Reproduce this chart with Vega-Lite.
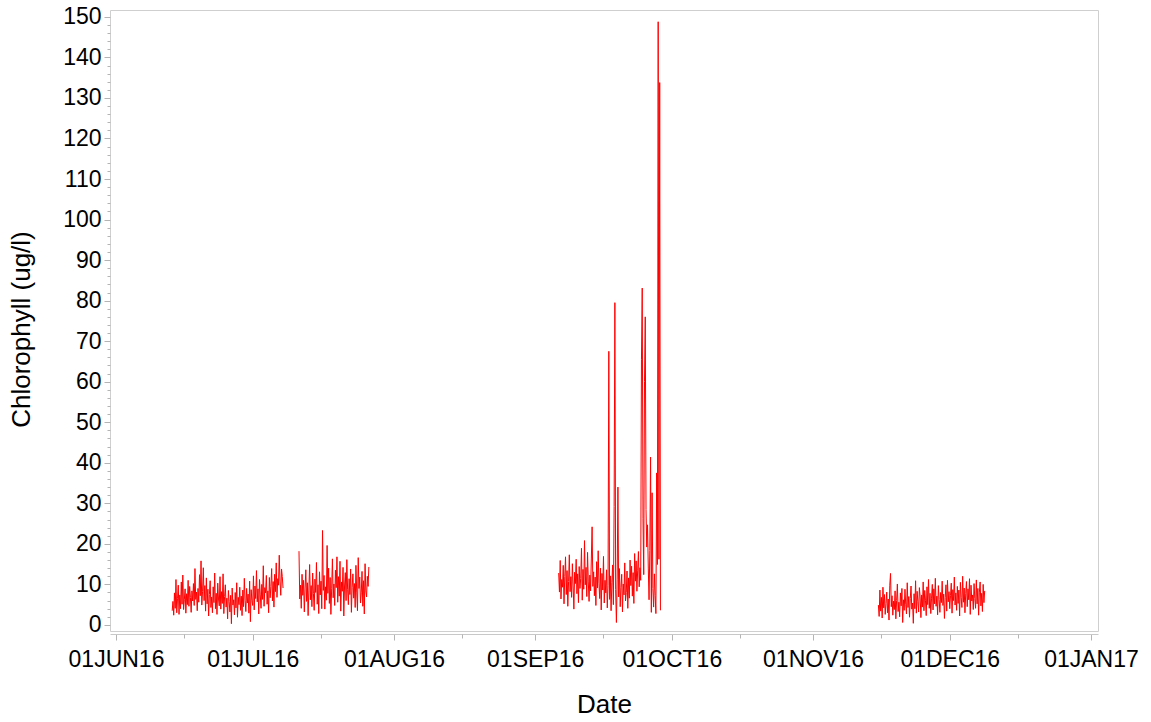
{
  "$schema": "https://vega.github.io/schema/vega-lite/v6.json",
  "width": 988,
  "height": 621,
  "autosize": "none",
  "padding": {"left": 110, "top": 10, "right": 53, "bottom": 91},
  "background": "white",
  "config": {
    "font": "Liberation Sans",
    "view": {"stroke": "#cfcfcf", "strokeWidth": 1},
    "axis": {"grid": false, "labelColor": "#000000", "titleColor": "#000000", "labelFont": "Liberation Sans", "titleFont": "Liberation Sans", "titleFontWeight": "normal", "tickColor": "#b4b4b4", "domainColor": "#c8c8c8"}
  },
  "data": {"values": [
    {"date":"2016-06-13 08:00","chl":3.5,"run":1},{"date":"2016-06-13 12:00","chl":5.8,"run":1},{"date":"2016-06-13 16:00","chl":2.4,"run":1},{"date":"2016-06-13 20:00","chl":7.9,"run":1},
    {"date":"2016-06-14 00:00","chl":4.1,"run":1},{"date":"2016-06-14 04:00","chl":11.2,"run":1},{"date":"2016-06-14 08:00","chl":3.0,"run":1},{"date":"2016-06-14 12:00","chl":6.5,"run":1},{"date":"2016-06-14 16:00","chl":9.8,"run":1},{"date":"2016-06-14 20:00","chl":2.6,"run":1},
    {"date":"2016-06-15 00:00","chl":7.4,"run":1},{"date":"2016-06-15 04:00","chl":4.0,"run":1},{"date":"2016-06-15 08:00","chl":10.6,"run":1},{"date":"2016-06-15 12:00","chl":5.1,"run":1},{"date":"2016-06-15 16:00","chl":12.3,"run":1},{"date":"2016-06-15 20:00","chl":3.8,"run":1},
    {"date":"2016-06-16 00:00","chl":6.2,"run":1},{"date":"2016-06-16 04:00","chl":8.9,"run":1},{"date":"2016-06-16 08:00","chl":2.9,"run":1},{"date":"2016-06-16 12:00","chl":7.7,"run":1},{"date":"2016-06-16 16:00","chl":5.0,"run":1},{"date":"2016-06-16 20:00","chl":11.0,"run":1},
    {"date":"2016-06-17 00:00","chl":4.6,"run":1},{"date":"2016-06-17 04:00","chl":9.5,"run":1},{"date":"2016-06-17 08:00","chl":6.8,"run":1},{"date":"2016-06-17 12:00","chl":3.1,"run":1},{"date":"2016-06-17 16:00","chl":8.4,"run":1},{"date":"2016-06-17 20:00","chl":5.9,"run":1},
    {"date":"2016-06-18 00:00","chl":10.2,"run":1},{"date":"2016-06-18 04:00","chl":4.8,"run":1},{"date":"2016-06-18 08:00","chl":13.9,"run":1},{"date":"2016-06-18 12:00","chl":6.3,"run":1},{"date":"2016-06-18 16:00","chl":8.1,"run":1},{"date":"2016-06-18 20:00","chl":3.5,"run":1},
    {"date":"2016-06-19 00:00","chl":9.0,"run":1},{"date":"2016-06-19 04:00","chl":5.6,"run":1},{"date":"2016-06-19 08:00","chl":12.4,"run":1},{"date":"2016-06-19 12:00","chl":7.2,"run":1},{"date":"2016-06-19 16:00","chl":15.8,"run":1},{"date":"2016-06-19 20:00","chl":4.9,"run":1},
    {"date":"2016-06-20 00:00","chl":8.3,"run":1},{"date":"2016-06-20 04:00","chl":14.1,"run":1},{"date":"2016-06-20 08:00","chl":6.0,"run":1},{"date":"2016-06-20 12:00","chl":9.7,"run":1},{"date":"2016-06-20 16:00","chl":3.4,"run":1},{"date":"2016-06-20 20:00","chl":11.6,"run":1},
    {"date":"2016-06-21 00:00","chl":5.2,"run":1},{"date":"2016-06-21 04:00","chl":8.8,"run":1},{"date":"2016-06-21 08:00","chl":2.2,"run":1},{"date":"2016-06-21 12:00","chl":7.5,"run":1},{"date":"2016-06-21 16:00","chl":10.9,"run":1},{"date":"2016-06-21 20:00","chl":4.3,"run":1},
    {"date":"2016-06-22 00:00","chl":6.9,"run":1},{"date":"2016-06-22 04:00","chl":3.0,"run":1},{"date":"2016-06-22 08:00","chl":9.4,"run":1},{"date":"2016-06-22 12:00","chl":5.5,"run":1},{"date":"2016-06-22 16:00","chl":12.8,"run":1},{"date":"2016-06-22 20:00","chl":4.0,"run":1},
    {"date":"2016-06-23 00:00","chl":7.8,"run":1},{"date":"2016-06-23 04:00","chl":2.6,"run":1},{"date":"2016-06-23 08:00","chl":10.3,"run":1},{"date":"2016-06-23 12:00","chl":6.4,"run":1},{"date":"2016-06-23 16:00","chl":4.7,"run":1},{"date":"2016-06-23 20:00","chl":11.9,"run":1},
    {"date":"2016-06-24 00:00","chl":3.9,"run":1},{"date":"2016-06-24 04:00","chl":8.2,"run":1},{"date":"2016-06-24 08:00","chl":5.3,"run":1},{"date":"2016-06-24 12:00","chl":12.6,"run":1},{"date":"2016-06-24 16:00","chl":2.8,"run":1},{"date":"2016-06-24 20:00","chl":7.0,"run":1},
    {"date":"2016-06-25 00:00","chl":9.9,"run":1},{"date":"2016-06-25 04:00","chl":4.4,"run":1},{"date":"2016-06-25 08:00","chl":6.6,"run":1},{"date":"2016-06-25 12:00","chl":1.5,"run":1},{"date":"2016-06-25 16:00","chl":8.5,"run":1},{"date":"2016-06-25 20:00","chl":5.8,"run":1},
    {"date":"2016-06-26 00:00","chl":3.2,"run":1},{"date":"2016-06-26 04:00","chl":7.3,"run":1},{"date":"2016-06-26 08:00","chl":0.3,"run":1},{"date":"2016-06-26 12:00","chl":9.1,"run":1},{"date":"2016-06-26 16:00","chl":4.9,"run":1},{"date":"2016-06-26 20:00","chl":6.2,"run":1},
    {"date":"2016-06-27 00:00","chl":2.5,"run":1},{"date":"2016-06-27 04:00","chl":8.0,"run":1},{"date":"2016-06-27 08:00","chl":4.2,"run":1},{"date":"2016-06-27 12:00","chl":10.4,"run":1},{"date":"2016-06-27 16:00","chl":1.9,"run":1},{"date":"2016-06-27 20:00","chl":6.8,"run":1},
    {"date":"2016-06-28 00:00","chl":5.0,"run":1},{"date":"2016-06-28 04:00","chl":9.3,"run":1},{"date":"2016-06-28 08:00","chl":3.6,"run":1},{"date":"2016-06-28 12:00","chl":7.1,"run":1},{"date":"2016-06-28 16:00","chl":2.3,"run":1},{"date":"2016-06-28 20:00","chl":8.6,"run":1},
    {"date":"2016-06-29 00:00","chl":4.5,"run":1},{"date":"2016-06-29 04:00","chl":11.5,"run":1},{"date":"2016-06-29 08:00","chl":6.1,"run":1},{"date":"2016-06-29 12:00","chl":3.3,"run":1},{"date":"2016-06-29 16:00","chl":9.0,"run":1},{"date":"2016-06-29 20:00","chl":5.4,"run":1},
    {"date":"2016-06-30 00:00","chl":7.6,"run":1},{"date":"2016-06-30 04:00","chl":2.9,"run":1},{"date":"2016-06-30 08:00","chl":10.8,"run":1},{"date":"2016-06-30 12:00","chl":0.8,"run":1},{"date":"2016-06-30 16:00","chl":8.7,"run":1},{"date":"2016-06-30 20:00","chl":6.0,"run":1},
    {"date":"2016-07-01 00:00","chl":4.8,"run":1},{"date":"2016-07-01 04:00","chl":12.1,"run":1},{"date":"2016-07-01 08:00","chl":3.7,"run":1},{"date":"2016-07-01 12:00","chl":9.6,"run":1},{"date":"2016-07-01 16:00","chl":6.5,"run":1},{"date":"2016-07-01 20:00","chl":13.4,"run":1},
    {"date":"2016-07-02 00:00","chl":5.7,"run":1},{"date":"2016-07-02 04:00","chl":8.9,"run":1},{"date":"2016-07-02 08:00","chl":2.7,"run":1},{"date":"2016-07-02 12:00","chl":11.2,"run":1},{"date":"2016-07-02 16:00","chl":7.4,"run":1},{"date":"2016-07-02 20:00","chl":4.1,"run":1},
    {"date":"2016-07-03 00:00","chl":10.0,"run":1},{"date":"2016-07-03 04:00","chl":6.3,"run":1},{"date":"2016-07-03 08:00","chl":14.6,"run":1},{"date":"2016-07-03 12:00","chl":4.6,"run":1},{"date":"2016-07-03 16:00","chl":9.2,"run":1},{"date":"2016-07-03 20:00","chl":7.9,"run":1},
    {"date":"2016-07-04 00:00","chl":12.2,"run":1},{"date":"2016-07-04 04:00","chl":5.1,"run":1},{"date":"2016-07-04 08:00","chl":8.4,"run":1},{"date":"2016-07-04 12:00","chl":3.0,"run":1},{"date":"2016-07-04 16:00","chl":11.7,"run":1},{"date":"2016-07-04 20:00","chl":6.7,"run":1},
    {"date":"2016-07-05 00:00","chl":9.5,"run":1},{"date":"2016-07-05 04:00","chl":13.9,"run":1},{"date":"2016-07-05 08:00","chl":5.9,"run":1},{"date":"2016-07-05 12:00","chl":10.7,"run":1},{"date":"2016-07-05 16:00","chl":4.4,"run":1},{"date":"2016-07-05 20:00","chl":12.5,"run":1},
    {"date":"2016-07-06 00:00","chl":8.2,"run":1},{"date":"2016-07-06 04:00","chl":15.3,"run":1},{"date":"2016-07-06 08:00","chl":6.8,"run":1},{"date":"2016-07-06 12:00","chl":11.4,"run":1},{"date":"2016-07-06 16:00","chl":9.8,"run":1},{"date":"2016-07-06 20:00","chl":17.2,"run":1},
    {"date":"2016-07-07 00:00","chl":10.6,"run":1},{"date":"2016-07-07 04:00","chl":7.3,"run":1},{"date":"2016-07-07 08:00","chl":13.8,"run":1},{"date":"2016-07-07 12:00","chl":11.9,"run":1},{"date":"2016-07-07 16:00","chl":9.1,"run":1},

    {"date":"2016-07-11 04:00","chl":18.2,"run":2},{"date":"2016-07-11 08:00","chl":6.4,"run":2},{"date":"2016-07-11 12:00","chl":9.8,"run":2},{"date":"2016-07-11 16:00","chl":4.1,"run":2},{"date":"2016-07-11 20:00","chl":12.5,"run":2},
    {"date":"2016-07-12 00:00","chl":7.3,"run":2},{"date":"2016-07-12 04:00","chl":11.0,"run":2},{"date":"2016-07-12 08:00","chl":3.2,"run":2},{"date":"2016-07-12 12:00","chl":9.1,"run":2},{"date":"2016-07-12 16:00","chl":13.6,"run":2},{"date":"2016-07-12 20:00","chl":5.8,"run":2},
    {"date":"2016-07-13 00:00","chl":10.4,"run":2},{"date":"2016-07-13 04:00","chl":2.3,"run":2},{"date":"2016-07-13 08:00","chl":8.6,"run":2},{"date":"2016-07-13 12:00","chl":14.9,"run":2},{"date":"2016-07-13 16:00","chl":6.2,"run":2},{"date":"2016-07-13 20:00","chl":9.7,"run":2},
    {"date":"2016-07-14 00:00","chl":4.5,"run":2},{"date":"2016-07-14 04:00","chl":12.8,"run":2},{"date":"2016-07-14 08:00","chl":7.7,"run":2},{"date":"2016-07-14 12:00","chl":3.6,"run":2},{"date":"2016-07-14 16:00","chl":11.3,"run":2},{"date":"2016-07-14 20:00","chl":8.0,"run":2},
    {"date":"2016-07-15 00:00","chl":15.4,"run":2},{"date":"2016-07-15 04:00","chl":5.1,"run":2},{"date":"2016-07-15 08:00","chl":9.9,"run":2},{"date":"2016-07-15 12:00","chl":2.8,"run":2},{"date":"2016-07-15 16:00","chl":13.1,"run":2},{"date":"2016-07-15 20:00","chl":7.4,"run":2},
    {"date":"2016-07-16 00:00","chl":10.8,"run":2},{"date":"2016-07-16 04:00","chl":4.0,"run":2},{"date":"2016-07-16 08:00","chl":23.3,"run":2},{"date":"2016-07-16 12:00","chl":8.5,"run":2},{"date":"2016-07-16 16:00","chl":12.2,"run":2},{"date":"2016-07-16 20:00","chl":3.9,"run":2},
    {"date":"2016-07-17 00:00","chl":9.4,"run":2},{"date":"2016-07-17 04:00","chl":6.1,"run":2},{"date":"2016-07-17 08:00","chl":19.6,"run":2},{"date":"2016-07-17 12:00","chl":7.8,"run":2},{"date":"2016-07-17 16:00","chl":14.0,"run":2},{"date":"2016-07-17 20:00","chl":5.3,"run":2},
    {"date":"2016-07-18 00:00","chl":11.7,"run":2},{"date":"2016-07-18 04:00","chl":2.6,"run":2},{"date":"2016-07-18 08:00","chl":8.9,"run":2},{"date":"2016-07-18 12:00","chl":16.3,"run":2},{"date":"2016-07-18 16:00","chl":6.7,"run":2},{"date":"2016-07-18 20:00","chl":10.1,"run":2},
    {"date":"2016-07-19 00:00","chl":4.8,"run":2},{"date":"2016-07-19 04:00","chl":13.5,"run":2},{"date":"2016-07-19 08:00","chl":9.2,"run":2},{"date":"2016-07-19 12:00","chl":16.8,"run":2},{"date":"2016-07-19 16:00","chl":5.6,"run":2},{"date":"2016-07-19 20:00","chl":11.9,"run":2},
    {"date":"2016-07-20 00:00","chl":7.1,"run":2},{"date":"2016-07-20 04:00","chl":15.7,"run":2},{"date":"2016-07-20 08:00","chl":3.4,"run":2},{"date":"2016-07-20 12:00","chl":10.6,"run":2},{"date":"2016-07-20 16:00","chl":8.3,"run":2},{"date":"2016-07-20 20:00","chl":14.2,"run":2},
    {"date":"2016-07-21 00:00","chl":2.2,"run":2},{"date":"2016-07-21 04:00","chl":9.6,"run":2},{"date":"2016-07-21 08:00","chl":12.9,"run":2},{"date":"2016-07-21 12:00","chl":6.0,"run":2},{"date":"2016-07-21 16:00","chl":16.1,"run":2},{"date":"2016-07-21 20:00","chl":8.8,"run":2},
    {"date":"2016-07-22 00:00","chl":5.0,"run":2},{"date":"2016-07-22 04:00","chl":11.4,"run":2},{"date":"2016-07-22 08:00","chl":7.5,"run":2},{"date":"2016-07-22 12:00","chl":13.8,"run":2},{"date":"2016-07-22 16:00","chl":3.1,"run":2},{"date":"2016-07-22 20:00","chl":9.3,"run":2},
    {"date":"2016-07-23 00:00","chl":12.6,"run":2},{"date":"2016-07-23 04:00","chl":6.6,"run":2},{"date":"2016-07-23 08:00","chl":10.2,"run":2},{"date":"2016-07-23 12:00","chl":4.3,"run":2},{"date":"2016-07-23 16:00","chl":14.7,"run":2},{"date":"2016-07-23 20:00","chl":8.1,"run":2},
    {"date":"2016-07-24 00:00","chl":3.5,"run":2},{"date":"2016-07-24 04:00","chl":16.6,"run":2},{"date":"2016-07-24 08:00","chl":9.0,"run":2},{"date":"2016-07-24 12:00","chl":11.8,"run":2},{"date":"2016-07-24 16:00","chl":5.4,"run":2},{"date":"2016-07-24 20:00","chl":7.9,"run":2},
    {"date":"2016-07-25 00:00","chl":13.2,"run":2},{"date":"2016-07-25 04:00","chl":4.6,"run":2},{"date":"2016-07-25 08:00","chl":10.9,"run":2},{"date":"2016-07-25 12:00","chl":2.7,"run":2},{"date":"2016-07-25 16:00","chl":15.1,"run":2},{"date":"2016-07-25 20:00","chl":8.4,"run":2},
    {"date":"2016-07-26 00:00","chl":6.9,"run":2},{"date":"2016-07-26 04:00","chl":12.0,"run":2},{"date":"2016-07-26 08:00","chl":9.5,"run":2},{"date":"2016-07-26 12:00","chl":14.3,"run":2},

    {"date":"2016-09-06 04:00","chl":12.8,"run":3},{"date":"2016-09-06 08:00","chl":8.1,"run":3},{"date":"2016-09-06 12:00","chl":15.9,"run":3},{"date":"2016-09-06 16:00","chl":6.4,"run":3},{"date":"2016-09-06 20:00","chl":11.2,"run":3},
    {"date":"2016-09-07 00:00","chl":9.3,"run":3},{"date":"2016-09-07 04:00","chl":14.7,"run":3},{"date":"2016-09-07 08:00","chl":5.2,"run":3},{"date":"2016-09-07 12:00","chl":12.0,"run":3},{"date":"2016-09-07 16:00","chl":16.8,"run":3},{"date":"2016-09-07 20:00","chl":7.5,"run":3},
    {"date":"2016-09-08 00:00","chl":13.4,"run":3},{"date":"2016-09-08 04:00","chl":4.6,"run":3},{"date":"2016-09-08 08:00","chl":10.7,"run":3},{"date":"2016-09-08 12:00","chl":17.3,"run":3},{"date":"2016-09-08 16:00","chl":8.2,"run":3},{"date":"2016-09-08 20:00","chl":11.9,"run":3},
    {"date":"2016-09-09 00:00","chl":6.8,"run":3},{"date":"2016-09-09 04:00","chl":15.1,"run":3},{"date":"2016-09-09 08:00","chl":9.6,"run":3},{"date":"2016-09-09 12:00","chl":3.9,"run":3},{"date":"2016-09-09 16:00","chl":13.0,"run":3},{"date":"2016-09-09 20:00","chl":10.2,"run":3},
    {"date":"2016-09-10 00:00","chl":16.2,"run":3},{"date":"2016-09-10 04:00","chl":7.7,"run":3},{"date":"2016-09-10 08:00","chl":12.6,"run":3},{"date":"2016-09-10 12:00","chl":5.5,"run":3},{"date":"2016-09-10 16:00","chl":14.4,"run":3},{"date":"2016-09-10 20:00","chl":9.0,"run":3},
    {"date":"2016-09-11 00:00","chl":11.5,"run":3},{"date":"2016-09-11 04:00","chl":18.9,"run":3},{"date":"2016-09-11 08:00","chl":6.1,"run":3},{"date":"2016-09-11 12:00","chl":13.7,"run":3},{"date":"2016-09-11 16:00","chl":8.8,"run":3},{"date":"2016-09-11 20:00","chl":20.8,"run":3},
    {"date":"2016-09-12 00:00","chl":9.9,"run":3},{"date":"2016-09-12 04:00","chl":14.2,"run":3},{"date":"2016-09-12 08:00","chl":7.0,"run":3},{"date":"2016-09-12 12:00","chl":17.9,"run":3},{"date":"2016-09-12 16:00","chl":10.6,"run":3},{"date":"2016-09-12 20:00","chl":5.8,"run":3},
    {"date":"2016-09-13 00:00","chl":12.3,"run":3},{"date":"2016-09-13 04:00","chl":8.4,"run":3},{"date":"2016-09-13 08:00","chl":16.5,"run":3},{"date":"2016-09-13 12:00","chl":24.2,"run":3},{"date":"2016-09-13 16:00","chl":9.5,"run":3},{"date":"2016-09-13 20:00","chl":13.1,"run":3},
    {"date":"2016-09-14 00:00","chl":7.2,"run":3},{"date":"2016-09-14 04:00","chl":11.8,"run":3},{"date":"2016-09-14 08:00","chl":4.8,"run":3},{"date":"2016-09-14 12:00","chl":15.6,"run":3},{"date":"2016-09-14 16:00","chl":9.1,"run":3},{"date":"2016-09-14 20:00","chl":18.3,"run":3},
    {"date":"2016-09-15 00:00","chl":10.3,"run":3},{"date":"2016-09-15 04:00","chl":6.5,"run":3},{"date":"2016-09-15 08:00","chl":14.0,"run":3},{"date":"2016-09-15 12:00","chl":3.7,"run":3},{"date":"2016-09-15 16:00","chl":12.7,"run":3},{"date":"2016-09-15 20:00","chl":8.6,"run":3},
    {"date":"2016-09-16 00:00","chl":16.9,"run":3},{"date":"2016-09-16 04:00","chl":5.4,"run":3},{"date":"2016-09-16 08:00","chl":11.0,"run":3},{"date":"2016-09-16 12:00","chl":7.9,"run":3},{"date":"2016-09-16 16:00","chl":13.6,"run":3},{"date":"2016-09-16 20:00","chl":4.2,"run":3},
    {"date":"2016-09-17 00:00","chl":9.8,"run":3},{"date":"2016-09-17 04:00","chl":67.5,"run":3},{"date":"2016-09-17 08:00","chl":6.3,"run":3},{"date":"2016-09-17 12:00","chl":12.1,"run":3},{"date":"2016-09-17 16:00","chl":3.5,"run":3},{"date":"2016-09-17 20:00","chl":10.4,"run":3},
    {"date":"2016-09-18 00:00","chl":14.8,"run":3},{"date":"2016-09-18 04:00","chl":5.0,"run":3},{"date":"2016-09-18 08:00","chl":29.2,"run":3},{"date":"2016-09-18 12:00","chl":79.5,"run":3},{"date":"2016-09-18 16:00","chl":8.7,"run":3},{"date":"2016-09-18 20:00","chl":0.6,"run":3},
    {"date":"2016-09-19 00:00","chl":11.3,"run":3},{"date":"2016-09-19 04:00","chl":34.0,"run":3},{"date":"2016-09-19 08:00","chl":6.9,"run":3},{"date":"2016-09-19 12:00","chl":13.9,"run":3},{"date":"2016-09-19 16:00","chl":4.5,"run":3},{"date":"2016-09-19 20:00","chl":9.2,"run":3},
    {"date":"2016-09-20 00:00","chl":12.5,"run":3},{"date":"2016-09-20 04:00","chl":3.2,"run":3},{"date":"2016-09-20 08:00","chl":10.1,"run":3},{"date":"2016-09-20 12:00","chl":7.4,"run":3},{"date":"2016-09-20 16:00","chl":15.3,"run":3},{"date":"2016-09-20 20:00","chl":5.9,"run":3},
    {"date":"2016-09-21 00:00","chl":8.0,"run":3},{"date":"2016-09-21 04:00","chl":13.3,"run":3},{"date":"2016-09-21 08:00","chl":4.1,"run":3},{"date":"2016-09-21 12:00","chl":11.6,"run":3},{"date":"2016-09-21 16:00","chl":6.6,"run":3},{"date":"2016-09-21 20:00","chl":16.0,"run":3},
    {"date":"2016-09-22 00:00","chl":9.7,"run":3},{"date":"2016-09-22 04:00","chl":14.5,"run":3},{"date":"2016-09-22 08:00","chl":7.1,"run":3},{"date":"2016-09-22 12:00","chl":12.9,"run":3},{"date":"2016-09-22 16:00","chl":5.3,"run":3},{"date":"2016-09-22 20:00","chl":17.6,"run":3},
    {"date":"2016-09-23 00:00","chl":10.8,"run":3},{"date":"2016-09-23 04:00","chl":15.8,"run":3},{"date":"2016-09-23 08:00","chl":8.3,"run":3},{"date":"2016-09-23 12:00","chl":13.5,"run":3},{"date":"2016-09-23 16:00","chl":18.1,"run":3},{"date":"2016-09-23 20:00","chl":9.4,"run":3},
    {"date":"2016-09-24 00:00","chl":14.1,"run":3},{"date":"2016-09-24 04:00","chl":11.0,"run":3},{"date":"2016-09-24 08:00","chl":65.4,"run":3},{"date":"2016-09-24 12:00","chl":83.1,"run":3},{"date":"2016-09-24 16:00","chl":26.3,"run":3},{"date":"2016-09-24 20:00","chl":12.4,"run":3},
    {"date":"2016-09-25 00:00","chl":60.0,"run":3},{"date":"2016-09-25 04:00","chl":76.0,"run":3},{"date":"2016-09-25 08:00","chl":28.5,"run":3},{"date":"2016-09-25 12:00","chl":19.2,"run":3},{"date":"2016-09-25 16:00","chl":24.7,"run":3},{"date":"2016-09-25 20:00","chl":13.8,"run":3},
    {"date":"2016-09-26 00:00","chl":6.2,"run":3},{"date":"2016-09-26 04:00","chl":18.4,"run":3},{"date":"2016-09-26 08:00","chl":41.4,"run":3},{"date":"2016-09-26 12:00","chl":3.1,"run":3},{"date":"2016-09-26 16:00","chl":32.6,"run":3},{"date":"2016-09-26 20:00","chl":9.0,"run":3},
    {"date":"2016-09-27 00:00","chl":4.4,"run":3},{"date":"2016-09-27 04:00","chl":12.6,"run":3},{"date":"2016-09-27 08:00","chl":7.3,"run":3},{"date":"2016-09-27 12:00","chl":2.8,"run":3},{"date":"2016-09-27 16:00","chl":37.5,"run":3},{"date":"2016-09-27 20:00","chl":14.9,"run":3},
    {"date":"2016-09-28 00:00","chl":148.8,"run":3},{"date":"2016-09-28 04:00","chl":16.2,"run":3},{"date":"2016-09-28 08:00","chl":133.8,"run":3},{"date":"2016-09-28 12:00","chl":3.6,"run":3},

    {"date":"2016-11-15 08:00","chl":4.9,"run":4},{"date":"2016-11-15 12:00","chl":2.1,"run":4},{"date":"2016-11-15 16:00","chl":8.6,"run":4},{"date":"2016-11-15 20:00","chl":3.4,"run":4},
    {"date":"2016-11-16 00:00","chl":6.8,"run":4},{"date":"2016-11-16 04:00","chl":1.7,"run":4},{"date":"2016-11-16 08:00","chl":9.3,"run":4},{"date":"2016-11-16 12:00","chl":4.2,"run":4},{"date":"2016-11-16 16:00","chl":7.5,"run":4},{"date":"2016-11-16 20:00","chl":2.6,"run":4},
    {"date":"2016-11-17 00:00","chl":5.3,"run":4},{"date":"2016-11-17 04:00","chl":8.1,"run":4},{"date":"2016-11-17 08:00","chl":3.0,"run":4},{"date":"2016-11-17 12:00","chl":6.4,"run":4},{"date":"2016-11-17 16:00","chl":1.2,"run":4},{"date":"2016-11-17 20:00","chl":9.8,"run":4},
    {"date":"2016-11-18 00:00","chl":12.7,"run":4},{"date":"2016-11-18 04:00","chl":4.5,"run":4},{"date":"2016-11-18 08:00","chl":7.2,"run":4},{"date":"2016-11-18 12:00","chl":2.4,"run":4},{"date":"2016-11-18 16:00","chl":5.9,"run":4},{"date":"2016-11-18 20:00","chl":3.8,"run":4},
    {"date":"2016-11-19 00:00","chl":8.4,"run":4},{"date":"2016-11-19 04:00","chl":1.5,"run":4},{"date":"2016-11-19 08:00","chl":6.0,"run":4},{"date":"2016-11-19 12:00","chl":10.1,"run":4},{"date":"2016-11-19 16:00","chl":3.3,"run":4},{"date":"2016-11-19 20:00","chl":5.6,"run":4},
    {"date":"2016-11-20 00:00","chl":2.0,"run":4},{"date":"2016-11-20 04:00","chl":7.9,"run":4},{"date":"2016-11-20 08:00","chl":4.7,"run":4},{"date":"2016-11-20 12:00","chl":9.0,"run":4},{"date":"2016-11-20 16:00","chl":0.6,"run":4},{"date":"2016-11-20 20:00","chl":6.2,"run":4},
    {"date":"2016-11-21 00:00","chl":3.6,"run":4},{"date":"2016-11-21 04:00","chl":8.8,"run":4},{"date":"2016-11-21 08:00","chl":5.1,"run":4},{"date":"2016-11-21 12:00","chl":2.7,"run":4},{"date":"2016-11-21 16:00","chl":10.4,"run":4},{"date":"2016-11-21 20:00","chl":4.3,"run":4},
    {"date":"2016-11-22 00:00","chl":7.0,"run":4},{"date":"2016-11-22 04:00","chl":1.9,"run":4},{"date":"2016-11-22 08:00","chl":6.5,"run":4},{"date":"2016-11-22 12:00","chl":9.6,"run":4},{"date":"2016-11-22 16:00","chl":3.9,"run":4},{"date":"2016-11-22 20:00","chl":5.4,"run":4},
    {"date":"2016-11-23 00:00","chl":0.4,"run":4},{"date":"2016-11-23 04:00","chl":7.7,"run":4},{"date":"2016-11-23 08:00","chl":4.0,"run":4},{"date":"2016-11-23 12:00","chl":10.9,"run":4},{"date":"2016-11-23 16:00","chl":2.9,"run":4},{"date":"2016-11-23 20:00","chl":8.3,"run":4},
    {"date":"2016-11-24 00:00","chl":5.8,"run":4},{"date":"2016-11-24 04:00","chl":3.2,"run":4},{"date":"2016-11-24 08:00","chl":9.2,"run":4},{"date":"2016-11-24 12:00","chl":6.9,"run":4},{"date":"2016-11-24 16:00","chl":1.8,"run":4},{"date":"2016-11-24 20:00","chl":7.4,"run":4},
    {"date":"2016-11-25 00:00","chl":4.4,"run":4},{"date":"2016-11-25 04:00","chl":10.6,"run":4},{"date":"2016-11-25 08:00","chl":3.5,"run":4},{"date":"2016-11-25 12:00","chl":8.5,"run":4},{"date":"2016-11-25 16:00","chl":6.1,"run":4},{"date":"2016-11-25 20:00","chl":2.3,"run":4},
    {"date":"2016-11-26 00:00","chl":9.4,"run":4},{"date":"2016-11-26 04:00","chl":5.0,"run":4},{"date":"2016-11-26 08:00","chl":11.2,"run":4},{"date":"2016-11-26 12:00","chl":4.1,"run":4},{"date":"2016-11-26 16:00","chl":7.8,"run":4},{"date":"2016-11-26 20:00","chl":2.8,"run":4},
    {"date":"2016-11-27 00:00","chl":6.6,"run":4},{"date":"2016-11-27 04:00","chl":10.0,"run":4},{"date":"2016-11-27 08:00","chl":3.7,"run":4},{"date":"2016-11-27 12:00","chl":8.9,"run":4},{"date":"2016-11-27 16:00","chl":5.2,"run":4},{"date":"2016-11-27 20:00","chl":11.5,"run":4},
    {"date":"2016-11-28 00:00","chl":4.6,"run":4},{"date":"2016-11-28 04:00","chl":7.1,"run":4},{"date":"2016-11-28 08:00","chl":2.5,"run":4},{"date":"2016-11-28 12:00","chl":9.7,"run":4},{"date":"2016-11-28 16:00","chl":6.3,"run":4},{"date":"2016-11-28 20:00","chl":3.1,"run":4},
    {"date":"2016-11-29 00:00","chl":8.0,"run":4},{"date":"2016-11-29 04:00","chl":5.5,"run":4},{"date":"2016-11-29 08:00","chl":10.8,"run":4},{"date":"2016-11-29 12:00","chl":4.8,"run":4},{"date":"2016-11-29 16:00","chl":7.6,"run":4},{"date":"2016-11-29 20:00","chl":1.6,"run":4},
    {"date":"2016-11-30 00:00","chl":6.7,"run":4},{"date":"2016-11-30 04:00","chl":9.9,"run":4},{"date":"2016-11-30 08:00","chl":3.4,"run":4},{"date":"2016-11-30 12:00","chl":11.0,"run":4},{"date":"2016-11-30 16:00","chl":5.7,"run":4},{"date":"2016-11-30 20:00","chl":8.2,"run":4},
    {"date":"2016-12-01 00:00","chl":4.0,"run":4},{"date":"2016-12-01 04:00","chl":7.3,"run":4},{"date":"2016-12-01 08:00","chl":10.3,"run":4},{"date":"2016-12-01 12:00","chl":2.9,"run":4},{"date":"2016-12-01 16:00","chl":8.7,"run":4},{"date":"2016-12-01 20:00","chl":6.0,"run":4},
    {"date":"2016-12-02 00:00","chl":11.8,"run":4},{"date":"2016-12-02 04:00","chl":4.9,"run":4},{"date":"2016-12-02 08:00","chl":7.9,"run":4},{"date":"2016-12-02 12:00","chl":3.6,"run":4},{"date":"2016-12-02 16:00","chl":9.5,"run":4},{"date":"2016-12-02 20:00","chl":5.3,"run":4},
    {"date":"2016-12-03 00:00","chl":8.6,"run":4},{"date":"2016-12-03 04:00","chl":2.2,"run":4},{"date":"2016-12-03 08:00","chl":10.5,"run":4},{"date":"2016-12-03 12:00","chl":6.8,"run":4},{"date":"2016-12-03 16:00","chl":4.3,"run":4},{"date":"2016-12-03 20:00","chl":12.0,"run":4},
    {"date":"2016-12-04 00:00","chl":5.6,"run":4},{"date":"2016-12-04 04:00","chl":9.1,"run":4},{"date":"2016-12-04 08:00","chl":3.0,"run":4},{"date":"2016-12-04 12:00","chl":7.7,"run":4},{"date":"2016-12-04 16:00","chl":10.7,"run":4},{"date":"2016-12-04 20:00","chl":4.5,"run":4},
    {"date":"2016-12-05 00:00","chl":8.9,"run":4},{"date":"2016-12-05 04:00","chl":6.2,"run":4},{"date":"2016-12-05 08:00","chl":11.4,"run":4},{"date":"2016-12-05 12:00","chl":2.6,"run":4},{"date":"2016-12-05 16:00","chl":9.8,"run":4},{"date":"2016-12-05 20:00","chl":5.9,"run":4},
    {"date":"2016-12-06 00:00","chl":7.4,"run":4},{"date":"2016-12-06 04:00","chl":3.8,"run":4},{"date":"2016-12-06 08:00","chl":10.2,"run":4},{"date":"2016-12-06 12:00","chl":6.5,"run":4},{"date":"2016-12-06 16:00","chl":4.1,"run":4},{"date":"2016-12-06 20:00","chl":11.1,"run":4},
    {"date":"2016-12-07 00:00","chl":5.2,"run":4},{"date":"2016-12-07 04:00","chl":9.0,"run":4},{"date":"2016-12-07 08:00","chl":2.4,"run":4},{"date":"2016-12-07 12:00","chl":8.1,"run":4},{"date":"2016-12-07 16:00","chl":10.6,"run":4},{"date":"2016-12-07 20:00","chl":4.7,"run":4},
    {"date":"2016-12-08 00:00","chl":7.8,"run":4},{"date":"2016-12-08 04:00","chl":3.3,"run":4},{"date":"2016-12-08 08:00","chl":10.0,"run":4},{"date":"2016-12-08 12:00","chl":5.5,"run":4},{"date":"2016-12-08 16:00","chl":8.4,"run":4}
  ]},
  "encoding": {
    "x": {
      "field": "date", "type": "temporal",
      "scale": {"domain": [
        {"year": 2016, "month": "may", "date": 30, "hours": 16, "minutes": 25},
        {"year": 2017, "month": "jan", "date": 2, "hours": 12, "minutes": 52}
      ], "nice": false}
    },
    "y": {
      "field": "chl", "type": "quantitative",
      "scale": {"domain": [-1.5, 151.7], "nice": false, "zero": false}
    },
    "detail": {"field": "run", "type": "nominal"}
  },
  "layer": [
    {
      "mark": {"type": "line", "color": "#ff0000", "strokeWidth": 1, "interpolate": "linear"},
      "encoding": {
        "x": {
          "field": "date", "type": "temporal",
          "axis": {
            "title": "Date", "titleFontSize": 26, "titlePadding": 20,
            "labelFontSize": 23, "labelPadding": 8, "tickSize": 6, "offset": 3,
            "domain": true,
            "values": [
              {"year": 2016, "month": "jun", "date": 1},
              {"year": 2016, "month": "jul", "date": 1},
              {"year": 2016, "month": "aug", "date": 1},
              {"year": 2016, "month": "sep", "date": 1},
              {"year": 2016, "month": "oct", "date": 1},
              {"year": 2016, "month": "nov", "date": 1},
              {"year": 2016, "month": "dec", "date": 1},
              {"year": 2017, "month": "jan", "date": 1}
            ],
            "labelExpr": "upper(timeFormat(datum.value, '%d%b%y'))",
            "labelOverlap": false, "labelFlush": false
          }
        },
        "y": {
          "field": "chl", "type": "quantitative",
          "axis": {
            "title": "Chlorophyll (ug/l)", "titleFontSize": 26, "titlePadding": 28, "titleY": 319,
            "labelFontSize": 23, "labelPadding": 3, "tickSize": 6,
            "domain": false,
            "values": [0, 10, 20, 30, 40, 50, 60, 70, 80, 90, 100, 110, 120, 130, 140, 150],
            "labelOverlap": false
          }
        }
      }
    },
    {
      "mark": {"type": "line", "opacity": 0},
      "encoding": {
        "x": {
          "field": "date", "type": "temporal",
          "axis": {
            "orient": "bottom", "title": null, "labels": false, "domain": false,
            "tickSize": 4, "offset": 3,
            "values": [
              {"year": 2016, "month": "jun", "date": 16},
              {"year": 2016, "month": "jul", "date": 16},
              {"year": 2016, "month": "aug", "date": 16},
              {"year": 2016, "month": "sep", "date": 16},
              {"year": 2016, "month": "oct", "date": 16},
              {"year": 2016, "month": "nov", "date": 16},
              {"year": 2016, "month": "dec", "date": 16}
            ]
          }
        },
        "y": {
          "field": "chl", "type": "quantitative",
          "axis": {
            "orient": "left", "title": null, "labels": false, "domain": false,
            "tickSize": 3,
            "values": [2, 4, 6, 8, 12, 14, 16, 18, 22, 24, 26, 28, 32, 34, 36, 38, 42, 44, 46, 48, 52, 54, 56, 58, 62, 64, 66, 68, 72, 74, 76, 78, 82, 84, 86, 88, 92, 94, 96, 98, 102, 104, 106, 108, 112, 114, 116, 118, 122, 124, 126, 128, 132, 134, 136, 138, 142, 144, 146, 148]
          }
        }
      }
    }
  ],
  "resolve": {"scale": {"x": "shared", "y": "shared"}, "axis": {"x": "independent", "y": "independent"}}
}
